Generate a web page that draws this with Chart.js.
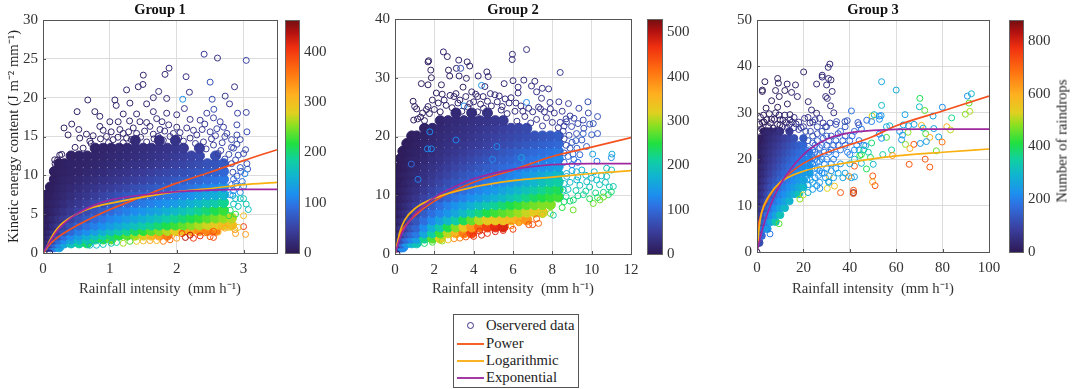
<!DOCTYPE html>
<html>
<head>
<meta charset="utf-8">
<script src="https://cdn.jsdelivr.net/npm/chart.js@4/dist/chart.umd.min.js"></script>
<style>
  html, body { margin:0; background:#fff; }
  body { position:relative; width:1072px; height:389px; overflow:hidden; font-family:"Liberation Serif",serif; color:#333; }
  canvas { position:absolute; top:0; }
  .title { position:absolute; top:1px; font-size:14.5px; line-height:17px; font-weight:bold; color:#111; transform:translateX(-50%); white-space:nowrap; }
  #cb-title { position:absolute; left:1062px; top:141px; font-size:14.7px; color:#222; white-space:nowrap; transform:translate(-50%,-50%) rotate(-90deg); }
  #legend { position:absolute; left:453px; top:314px; width:124px; height:72px; border:1px solid #555; font-size:14.7px; color:#222; }
  .row { position:absolute; left:32px; line-height:17px; white-space:nowrap; }
  .sw { position:absolute; left:3px; width:27px; height:2px; }
  .ring { position:absolute; left:13px; top:7px; width:5px; height:5px; border:1px solid #3f2c85; border-radius:50%; }
</style>
</head>
<body>
<canvas id="c1" width="340" height="300" style="left:0;width:340px;height:300px"></canvas>
<canvas id="c2" width="345" height="300" style="left:350px;width:345px;height:300px"></canvas>
<canvas id="c3" width="362" height="300" style="left:710px;width:362px;height:300px"></canvas>
<div class="title" style="left:160px">Group 1</div>
<div class="title" style="left:513px">Group 2</div>
<div class="title" style="left:873px">Group 3</div>
<div id="cb-title">Number of raindrops</div>
<div id="legend">
  <span class="ring"></span><div class="row" style="top:2px">Oservered data</div>
  <span class="sw" style="top:28px;background:#f4622a"></span><div class="row" style="top:20px">Power</div>
  <span class="sw" style="top:45px;background:#f9b224"></span><div class="row" style="top:37px">Logarithmic</div>
  <span class="sw" style="top:62px;background:#a43aa8"></span><div class="row" style="top:54px">Exponential</div>
</div>
<script>
// colorbar stops
const CB_STOPS = [[0,'#2e1a56'],[.1,'#3a3f9e'],[.2,'#2f6fe0'],[.25,'#1d8ef0'],[.33,'#10b4d0'],[.4,'#10d0a0'],[.47,'#20e040'],[.55,'#90e020'],[.6,'#e0d020'],[.68,'#ffb020'],[.78,'#ff7010'],[.88,'#f03010'],[.95,'#b01010'],[1,'#701010']];

// ---- Group 1
const g1Rain = [.02,.06,.11,.17,.24,.32,.42,.54,.66,.78,.9,1.02,1.14,1.26,1.38,1.5,1.62,1.74,1.86,1.98,2.1,2.22,2.34,2.46,2.58,2.7,2.82];
const g1Energy = [14.5,13.5,12.5,11.5,10.5,9.5,8.5,7.5,6.5,5.5,4.5,3.6,2.9,2.3,1.8,1.3,.8];
const g1Drops = [
[0,0,0,0,0,0,0,0,0,0,0,0,0,0,22,0,0,28,0,32,0,0,0,0,0,0,0],
[0,0,0,0,0,0,0,0,0,12,14,16,18,20,22,25,27,30,33,36,40,0,46,0,0,0,0],
[0,0,0,0,0,0,10,11,12,14,16,18,20,22,25,28,31,34,38,42,46,50,54,0,60,0,0],
[0,0,0,0,8,9,11,12,14,16,18,21,24,27,30,33,36,40,44,48,52,56,60,64,68,72,0],
[0,0,0,6,8,10,12,14,17,20,23,27,30,33,37,41,45,50,54,58,62,66,70,76,80,84,0],
[0,0,0,6,9,12,15,18,22,26,30,34,38,42,46,50,55,60,65,70,75,80,84,90,96,100,0],
[0,0,5,8,11,15,19,24,29,34,39,44,49,54,60,65,70,75,80,85,90,96,102,108,114,122,0],
[0,4,6,9,13,18,24,30,36,43,50,56,63,70,76,82,88,94,100,106,112,120,128,136,145,155,0],
[0,4,7,11,16,23,31,38,46,54,62,70,78,85,92,100,106,113,120,128,138,148,158,168,178,190,0],
[0,5,8,13,20,29,38,48,58,68,78,88,97,106,114,122,130,138,148,158,168,178,190,200,212,225,0],
[3,6,10,17,27,38,50,62,74,86,97,108,118,128,138,148,158,168,180,190,200,212,224,235,245,255,265],
[4,7,13,23,35,50,65,80,94,106,118,130,142,154,165,178,190,202,214,226,238,250,262,272,285,295,300],
[4,9,17,30,46,66,86,104,118,132,148,162,176,190,205,220,235,250,265,282,300,320,335,345,350,0,0],
[5,11,24,42,66,92,114,130,148,165,182,200,218,236,255,275,300,325,350,0,0,0,0,0,0,0,0],
[6,15,33,58,88,115,135,155,175,195,215,235,0,0,0,0,0,0,0,0,0,0,0,0,0,0,0],
[8,20,46,78,110,140,165,185,205,0,0,0,0,0,0,0,0,0,0,0,0,0,0,0,0,0,0],
[12,32,65,100,135,0,0,0,0,0,0,0,0,0,0,0,0,0,0,0,0,0,0,0,0,0,0]
];
const g1Rings = [[2.41,25.6,40],[2.61,25.1,30],[3.04,24.8,50],[1.885,23.8,20],[1.825,23,20],[1.5,22.9,18],[2.14,22.7,30],[2.5,22,60],[1.495,21.7,18],[2.865,21.4,30],[1.425,21.4,15],[1.25,21,15],[2.19,20.7,30],[1.73,20.8,20],[2.09,19.8,120],[.67,19.7,12],[1.075,19.7,14],[1.85,19.9,22],[1.65,20,20],[2.53,19.8,60],[2.725,20.2,40],[2.79,19.2,40],[1.095,19,14],[1.3,19.3,18],[.51,18.2,10],[.775,18.2,12],[3.04,18.1,50],[2.91,18,50],[.85,17.6,12],[1.55,19.2,20],[1.65,18.2,20],[2.115,18.6,35],[2.45,18,45],[2.555,18.5,60],[.43,16.6,9],[.315,16.1,8],[.535,15.9,9],[.375,15.2,8],[.85,16.3,12],[1.125,16.9,14],[1.295,17,16],[1.45,16.9,18],[1.85,18,24],[2,17.8,28],[2.35,17.1,40],[2.65,16.9,50],[2.9,16.5,55],[3.05,15.6,60],[1.2,15.4,14],[.95,15,12],[.7,14.4,10],[.25,12.6,7],[.175,12,6],[1.35,16.1,18],[1.6,16.3,20],[1.75,15.9,22],[1.95,15.4,26],[2.15,16.1,32],[2.3,15.2,35],[2.5,15.6,45],[2.75,15.4,50],[2.95,14.6,55],[3.03,13.3,55],[2.4,14.3,36],[2.55,13.9,42],[2.68,14.2,50],[2.82,13.6,50],[2.62,12.8,45],[2.78,12.7,55],[2.6,16,50],[2.2,14.8,30],[1.05,14.6,12],[1.25,14.8,14],[.6,13.5,9],[.48,13.6,8],[.72,14.1,10],[.86,14.7,11],[.98,14.2,12],[1.12,14.9,13],[1.2,14.2,14],[1.32,14.6,15],[1.46,14.9,18],[1.55,14.3,20],[1.66,14.7,22],[1.72,15,24],[1.8,14.5,25],[1.9,15,28],[2.03,14.8,30],[2.1,14.4,32],[2.28,14.1,36],[2.44,13.4,42],[2.52,14.7,42],[2.66,13.2,50],[2.72,12.1,60],[.55,14.8,9],[.65,15.3,10],[.75,15.1,10],[.9,15.8,12],[1.02,15.6,13],[1.15,15.9,14],[1.28,15.6,15],[1.4,15.4,17],[1.52,15.7,19],[1.65,15.3,21],[1.82,15.7,24],[1.88,16.5,25],[2,16.2,27],[2.05,15.5,30],[2.25,15.8,34],[2.38,15.9,38],[2.42,16.6,40],[2.58,15.1,46],[2.72,15,50],[2.82,14.6,52],[2.9,15.2,54],[1.55,16.8,20],[1.7,17.3,22],[1.78,16.9,23],[2.2,17.2,33],[2.55,17.4,46],[2.7,16.2,52],[1.4,17.9,18],[1.2,17.9,16],[1,16.9,13],[2.9,14,55],[2.88,12,60],[2.96,10.5,70],[2.88,9,90],[2.92,6,170],[2.84,7.4,130],[2.85,13.5,55],[2.92,12.6,60],[3,12.8,55],[3.05,11.5,60],[2.95,11,65],[3.06,10.8,70],[3.02,10.2,110],[2.9,9.9,80],[2.98,9.2,90],[2.85,9.5,85],[3,8.6,110],[2.9,8.6,100],[2.85,8,110],[2.95,7.8,120],[2.8,7.5,125],[2.88,7,160],[2.95,7,170],[3,7,170],[3.04,6.3,175],[3.07,5.6,165],[2.85,6.3,165],[2.8,5.5,200],[2.88,5,215],[2.78,4.8,220],[2.82,11.5,50],[2.84,10.4,60],[2.82,8.8,85],[3,4.8,300],[3,3.4,400],[3.03,2.4,330],[2.87,3,320],[2.88,2.5,330],[2.92,3.3,290],[2.78,3.3,280],[2.72,3.2,320],[2.62,2.7,320],[2.55,2.8,380],[2.55,2,390],[2.5,2.1,380],[2.42,2.6,350],[2.35,2.2,410],[2.25,1.9,400],[2.2,2.3,430],[2.13,2,440],[2.08,2.5,400],[2,1.9,330],[1.9,1.7,370],[1.8,1.5,350],[1.7,1.6,310],[1.6,1.6,320],[1.5,1.55,300],[1.4,1.5,280],[1.3,1.5,230],[1.2,1.25,260],[1.1,1.35,190],[1.02,1.25,170],[.9,1.1,170],[.8,1,160],[.7,1,150],[.1,0,5],[.03,3.5,3],[.04,5,3],[.08,7.5,4],[.12,8.3,5],[.15,9.5,5],[.18,11.5,6],[.22,12,6],[.28,12.7,7]];
const g1PowerRain = [0,.1,.25,.5,1,1.5,2,2.5,3,3.5];
const g1Power = [0,1.1,2.2,3.5,5.6,7.3,9,10.4,11.9,13.3];
const g1LogRain = [0,.05,.1,.2,.3,.5,.75,1,1.5,2,2.5,3,3.5];
const g1Log = [0,.6,1.6,3,3.9,5,5.9,6.4,7.2,7.9,8.3,8.8,9.1];
const g1ExpRain = [0,.1,.25,.5,.75,1,1.25,1.5,2,2.5,3,3.5];
const g1Exp = [0,1.4,3.2,5,6.1,6.8,7.2,7.5,7.9,8.1,8.2,8.2];

// ---- Group 2
const g2Rain = [.06,.15,.27,.4,.6,.85,1.1,1.5,1.9,2.3,2.7,3.1,3.5,3.9,4.3,4.7,5.1,5.5,5.9,6.3,6.7,7.1,7.5,7.9,8.3];
const g2Energy = [24,22.7,21.4,20.1,18.8,17.5,16.2,14.9,13.6,12.3,11,9.7,8.4,7.1,5.8,4.6,3.6,2.7,1.9,1.2];
const g2Drops = [
[0,0,0,0,0,0,0,0,0,0,0,22,0,28,0,34,0,0,0,0,0,0,0,0,0],
[0,0,0,0,0,0,0,0,0,18,22,25,28,32,35,38,42,45,0,0,0,0,0,0,0],
[0,0,0,0,0,0,0,12,17,21,25,28,32,36,40,44,47,52,56,60,64,0,0,0,0],
[0,0,0,0,0,8,10,14,19,24,28,32,36,40,45,50,54,58,62,66,70,74,78,82,86],
[0,0,0,0,6,9,11,16,22,27,32,37,42,46,50,55,60,65,70,75,80,85,90,94,98],
[0,0,0,5,7,10,13,19,25,31,37,42,48,54,60,66,72,78,84,90,95,100,105,110,115],
[0,0,4,6,8,12,16,22,30,36,43,50,56,63,70,76,82,88,94,100,106,112,118,124,130],
[0,0,4,6,9,14,19,27,34,42,50,58,65,72,79,86,93,100,106,112,120,128,136,144,152],
[0,3,5,7,11,17,23,32,41,50,58,67,76,84,92,100,107,114,122,130,140,150,160,170,180],
[0,3,5,8,13,20,27,38,48,58,68,78,88,97,106,115,124,133,143,153,165,177,190,200,210],
[1,3,6,10,16,24,32,45,57,68,80,92,103,114,124,134,145,156,168,180,192,205,218,230,240],
[1,4,7,12,19,28,40,55,69,83,96,109,122,134,146,158,170,182,195,208,222,235,245,255,260],
[1,4,8,15,24,36,50,68,87,105,122,138,154,170,185,200,215,230,245,258,270,280,285,285,0],
[2,5,10,19,30,46,64,85,105,122,140,160,180,205,225,245,260,270,280,295,310,325,330,0,0],
[2,6,13,25,40,60,78,105,130,155,180,205,240,275,305,325,330,340,350,360,380,0,0,0,0],
[3,8,19,36,55,75,95,130,170,205,245,285,330,380,420,450,470,480,0,0,0,0,0,0,0],
[3,11,26,48,75,95,115,160,210,260,305,350,400,450,0,0,0,0,0,0,0,0,0,0,0],
[4,15,38,70,100,125,150,215,270,320,0,0,0,0,0,0,0,0,0,0,0,0,0,0,0],
[6,22,55,100,140,175,195,0,0,0,0,0,0,0,0,0,0,0,0,0,0,0,0,0,0],
[10,38,85,130,0,0,0,0,0,0,0,0,0,0,0,0,0,0,0,0,0,0,0,0,0]
];
const g2Rings = [[2.46,34.4,12],[2.66,33.6,12],[6.69,34.8,30],[5.97,34,30],[5.96,33.1,30],[8.4,30.9,50],[1.71,32.9,5],[1.68,32.7,5],[3.24,33,15],[3.67,32.7,15],[3.8,32,15],[1.82,31.3,8],[2.72,31.3,12],[3.12,31.6,15],[3.34,31.6,70],[4.67,31,20],[4.23,30.3,20],[4.74,30.2,20],[1.34,29,6],[1.68,28.8,6],[1.85,30,8],[2.78,30.3,12],[3.26,30.3,15],[3.63,29.9,15],[4.4,28.7,140],[5.55,29,25],[6,29.5,28],[6.55,29.6,30],[7.11,29.4,32],[6.94,28.6,32],[7.49,28.2,35],[7.81,28.1,40],[6.26,28.4,30],[2.36,28.8,12],[3.46,28.4,15],[4.57,28.5,20],[5.08,27.1,25],[6.26,27.4,30],[7.2,27.6,35],[7.45,26.5,40],[7.88,25.8,45],[8.33,25.9,50],[8.82,25.6,55],[9.81,25.9,70],[6.69,25.8,130],[9.35,24.8,60],[10.3,23.4,70],[8.72,22.5,60],[9.57,22.8,65],[9.83,24,70],[.92,26,6],[1,25.1,6],[1.68,25.1,8],[3.51,25.2,130],[4.48,26.8,20],[1.77,20.8,130],[1.65,17.9,130],[3.1,19.4,120],[1.85,17.9,130],[.83,15.3,100],[1.17,12.7,120],[4.96,16.1,130],[6.43,16.4,160],[5.18,18.3,130],[10.3,20.5,80],[9.23,20.5,70],[9.9,22.1,75],[10.08,22.2,75],[8.98,21.7,65],[9.57,20.5,90],[10,20.3,90],[9.74,18.3,90],[8.9,18,80],[9.4,16.9,95],[9.1,16.1,100],[10.05,17,150],[11.03,17,170],[11,16.4,130],[10.27,15.8,120],[11.01,14.3,190],[10.76,14.6,190],[10.13,14,170],[9.23,14,170],[8.72,13.7,160],[8.73,13.2,170],[9.24,12.6,175],[9.75,12.3,180],[10.25,12.6,185],[10.76,13.2,190],[11.1,11.5,200],[8.56,10.9,190],[9.07,9.2,230],[9.58,10.1,220],[10.08,8.6,280],[10.42,9.2,280],[10.85,10.1,240],[8.05,6.6,200],[9.06,7.5,280],[9,14.2,160],[9.5,14.3,170],[9.7,13.4,175],[9.3,13.1,175],[8.9,12.2,180],[9.4,11.7,190],[9.9,11.4,195],[10.4,11.8,195],[10.7,12.2,190],[10.9,11.4,200],[10.5,13.3,185],[10,12.9,180],[8.6,12,180],[8.8,11,190],[9.2,10.8,200],[9.7,10.7,210],[10.2,10.4,220],[10.6,10.5,220],[11,10.6,230],[8.7,9.8,210],[9.3,9.9,220],[9.9,9.4,240],[10.3,9.6,240],[8.6,8.9,230],[8.5,7.9,250],[8.9,9,230],[10.6,9.7,280],[8.6,19.6,60],[8.7,18.5,70],[8.6,17.2,85],[8.8,16.6,95],[8.6,15.6,100],[9,15.2,120],[9.3,15.6,110],[8.55,20.9,55],[9.6,21.4,70],[9.5,19.4,85],[8.9,23.5,55],[7.4,24.7,40],[7,24.2,38],[6.4,25.2,30],[5.8,25.7,28],[5.2,25.9,25],[4.2,26.8,20],[3.9,27.6,18],[2.4,27.2,10],[2.1,27.4,9],[3,26.8,13],[1.4,24,6],[1.15,23,6],[.95,22.8,5],[1.1,24.7,6],[.75,19.5,4],[.55,18.6,4],[.4,17.2,3],[.25,16.1,3],[.2,14.5,2],[.13,12.5,2],[1.5,22.7,8],[1.75,23.9,9],[2,24.6,10],[2.3,24.2,11],[2.6,25.3,12],[2.9,24.9,14],[3.2,25.7,16],[3.7,25,18],[4,25.9,20],[4.5,24.8,22],[4.9,25.2,24],[5.4,24.5,26],[5.7,23.9,28],[6.1,24.3,30],[6.6,23.4,33],[7.2,22.9,36],[7.7,23.2,40],[8,22.4,42],[8.3,21.5,50],[6.2,22.6,42],[6.9,22.3,48],[7.5,21.8,50],[8.1,24,44],[3.4,24.3,18],[4.2,24.2,22],[5.6,26.4,27],[1.3,23.3,7],[1.6,24.6,8],[1.9,26.2,10],[2.2,25.7,10],[2.5,26.2,11],[2.8,27,12],[3.1,27.3,14],[3.3,26.2,15],[3.6,26.8,16],[3.8,25.6,17],[4.1,27.2,19],[4.35,25.5,20],[4.7,26,22],[4.85,27.3,23],[5.3,26.9,25],[5.45,25.1,26],[5.9,26.6,28],[6.15,25.7,29],[6.5,24.3,30],[6.8,24.8,32],[7.3,25,34],[7.6,24.2,36],[7.9,24.7,40],[8.5,24.3,48],[8.7,23,55],[8.4,22.4,52],[8.6,21.8,58],[9.1,23.1,60],[9.3,22.2,62],[9.2,19.3,80],[9,19,78],[9.25,18,85],[8.85,20.2,65],[9.05,17,95],[.1,0,5],[1.5,1.8,230],[1.9,2,260],[2.4,2.2,290],[2.7,2.4,330],[3,2.6,380],[3.3,2.7,400],[3.6,2.9,430],[4,3,470],[4.4,3.2,480],[4.3,3.9,470],[4.7,3.5,470],[5.1,3.8,480],[5.5,4,470],[6,4.2,450],[5.9,4.8,400],[6.3,5.3,390],[6.8,5,440],[7,5,440],[7.3,5.2,420],[7.2,6,430],[7.5,6.7,300],[7.9,6.9,280]];
const g2PowerRain = [0,.25,.5,1,2,4,6,8,10,12];
const g2Power = [0,3.4,4.7,6.5,9,12.2,14.3,16.6,18.2,19.8];
const g2LogRain = [0,.1,.25,.5,1,2,4,6,8,10,12];
const g2Log = [0,1.5,3.8,5.8,7.7,9.5,11.4,12.5,13.1,13.7,14.2];
const g2ExpRain = [0,.25,.5,1,2,3,4,6,8,10,12];
const g2Exp = [0,2.7,4.4,6.8,9.6,11.4,12.8,14.4,15.2,15.4,15.4];

// ---- Group 3
const g3Rain = [.4,1,2,3,4.5,6,8,10,12,14,16,18,20,22.5];
const g3Energy = [26,24.5,23,21.5,20,18.5,17,15.5,14,12.5,11,9.5,8,6.5,5,3.5,2];
const g3Drops = [
[0,0,0,22,28,36,45,55,0,80,0,0,0,0],
[0,0,10,20,30,40,55,70,85,100,115,0,135,0],
[3,6,14,24,36,50,66,82,100,115,130,145,160,0],
[3,7,16,28,42,58,76,95,112,130,148,165,180,195],
[4,8,19,32,48,66,86,106,126,146,164,180,195,215],
[5,10,22,37,55,75,98,120,142,162,180,198,215,235],
[5,12,26,43,64,88,112,136,158,178,198,218,238,255],
[5,14,30,50,74,102,128,152,176,198,220,240,262,0],
[6,17,35,58,86,116,146,172,196,220,245,270,300,0],
[7,20,42,70,102,135,166,195,222,250,280,320,0,0],
[8,24,50,84,120,156,190,222,255,290,0,0,0,0],
[10,29,62,100,142,182,220,260,300,0,0,0,0,0],
[12,36,76,122,170,215,260,320,0,0,0,0,0,0],
[15,46,95,150,205,260,330,0,0,0,0,0,0,0],
[18,58,120,185,240,0,0,0,0,0,0,0,0,0],
[24,80,160,0,0,0,0,0,0,0,0,0,0,0],
[32,110,0,0,0,0,0,0,0,0,0,0,0,0]
];
const g3Rings = [[31.4,40.5,40],[30.7,39.8,40],[20.1,38.8,30],[28.1,38.1,35],[28.1,37.7,35],[8.9,37.4,12],[30.8,37.4,40],[31.9,37.1,40],[3.4,36.7,8],[53.7,36.7,260],[60,34.9,270],[92.4,34.1,300],[90.7,33.6,230],[70.2,33.1,400],[91.4,32.1,450],[53.7,31.6,300],[70,31.3,300],[79.9,31.2,220],[40.7,30.4,180],[72.3,30.5,450],[91.7,30.3,500],[89.8,29.7,480],[63.8,29.6,260],[53.5,29.4,230],[75.9,29.3,260],[49.6,29.3,520],[50.5,29.6,300],[52.7,29.3,230],[83.9,28.9,370],[52.8,28.6,220],[47.3,28.4,170],[49.4,28.1,200],[43.5,27.9,130],[43.9,27.4,130],[57.2,27.2,300],[55.8,27,260],[63.1,27.4,260],[65.3,27.2,270],[67.7,27.5,250],[70.9,27.3,590],[71.6,26.7,290],[76.2,26.6,250],[81.8,27,600],[83.4,26.3,510],[45,26.5,190],[65.1,25.8,480],[61.5,26,230],[52.7,25.4,230],[72.7,25.5,440],[62.7,25.2,250],[55.8,24.7,430],[53.7,24.5,220],[74.5,24.7,600],[78.3,24.8,260],[62.3,24.2,230],[79.8,23.7,680],[73,23.8,250],[70.4,23.4,240],[67.6,23.2,730],[64,23.2,480],[49.4,23.5,380],[65.9,22.3,600],[58,22,350],[77.3,21.8,450],[46.8,22.9,280],[45,21,420],[44.3,20.8,420],[54.2,21,350],[58.4,20.8,640],[48.9,20.4,400],[72.5,20,720],[50.1,18.9,300],[65.6,18.9,720],[74.5,18.3,720],[42,18.5,720],[47.2,17.9,400],[45,19.1,300],[49.9,16.4,720],[49.8,15.1,600],[50.9,14.3,720],[42,16.2,250],[40.7,16,250],[39.6,16.3,640],[36,12.8,720],[41.6,13.3,720],[41.6,12.8,880],[41.5,12.6,720],[33.4,14.2,560],[30.3,13.7,530],[27.1,13.7,230],[25.8,14.3,230],[30.8,15.2,280],[31.1,16.4,550],[9.5,6.1,450],[5.6,3.9,180],[19.9,12.3,520],[18.5,11.4,480],[2.3,34.9,6],[2.3,34.6,6],[9.2,36.4,12],[13,36.2,18],[16.6,36,22],[25.7,36.2,32],[30,36,38],[32.4,34.6,42],[29.6,33.5,40],[30.3,33.1,40],[8,34.8,12],[12,34.8,16],[14.9,34.4,20],[17.4,33.5,24],[6.3,32.6,10],[9.6,33.5,14],[22.1,32.4,35],[13.1,31.9,20],[3.9,31,8],[8.9,31.2,14],[5.3,29.8,9],[14.2,29.6,22],[23.5,30.6,38],[25.7,29.9,42],[31.7,31.5,50],[33.1,30,55],[2.3,27.9,5],[6.3,28.6,10],[9.9,27.4,16],[7,26.7,12],[14.2,28.5,25],[22.8,27.8,60],[28.5,27.8,80],[34.3,28.1,110],[37.9,28.1,120],[38.9,28.3,125],[24,25,130],[26,24,140],[28,26,130],[30,23,150],[32,25,140],[34,24,150],[36,26,150],[38,25,160],[40,24,170],[42,26,160],[44,24,180],[46,23,200],[24,22,170],[26,21,180],[28,23,170],[30,20,190],[32,22,180],[34,21,190],[36,22,190],[38,23,180],[40,21,210],[42,22,220],[44,22,290],[46,22,330],[48,21.5,350],[24,19,200],[26,18,210],[28,17,220],[30,18,220],[32,19,210],[34,18,230],[36,19,230],[38,17,260],[40,19,260],[42,20,300],[25,16,230],[27,15,230],[29,17,230],[31,15,240],[33,16,250],[35,17,260],[37,16,260],[22,14.5,260],[24,15,250],[23,17,230],[22,20,200],[22,24,130],[26,27,110],[30,27,120],[34,27.5,120],[38,27,130],[20,27,90],[24,28,90],[18,28,70],[16,29,50],[12,29.5,25],[8,30,15],[10,28.5,30],[14,27.5,50],[25,20,190],[27,19.5,200],[29,21.5,180],[31,24,150],[33,20,200],[35,23,170],[37,24,160],[39,21.5,190],[41,25,170],[43,23,210],[35,25.5,140],[21,26,110],[23,26,110],[24,23.5,150],[25,21.5,170],[27,22.5,170],[26,25.5,120],[23,19,200],[23,15.5,240],[25,18,220],[27,17.5,220],[5,27,20],[3,28,10],[1.2,27.5,5],[11,27,35],[13,26.8,50],[16,26.8,80],[18,26.4,100],[1.5,29,5],[2.8,29.5,7],[4.2,28.5,9],[5.8,27.8,11],[7.5,28.6,13],[8.8,27.5,15],[9.5,29.5,18],[11.2,28.4,22],[12.6,27.9,30],[15.2,28,45],[16.8,27.6,60],[19,26.8,85],[20.5,28.8,65],[22,29,55],[25,28.5,80],[27,28.8,75],[29.5,27,100],[31.5,27.8,105],[21,22,160],[21.5,18,210],[22.5,22,175],[23,21,185],[24,20.3,195],[25,23,160],[26,19.5,205],[26.5,16.5,225],[27,21,190],[28,20,205],[28.5,24.5,150],[29,19,215],[29.5,16,235],[30,25,140],[31,21.5,190],[32,17.5,225],[33,23,165],[21.5,15.5,250],[22,12.8,280],[24,13.5,240],[0,0,5],[.3,23.5,2],[.5,20,2],[1,24.5,4],[.6,26,3],[2,26.5,6]];
const g3PowerRain = [0,.5,1,2,5,10,20,50,60,80,100];
const g3Power = [0,5.3,6.7,8.5,11.7,15,19.1,24.9,27.2,30.4,33.6];
const g3LogRain = [0,.5,1,2,5,10,20,40,60,80,100];
const g3Log = [0,3,5.5,8.5,12,15,17.4,19.3,20.7,21.5,22.2];
const g3ExpRain = [0,2,5,10,20,30,40,50,70,100];
const g3Exp = [0,4.3,9,14.5,21,24.3,25.7,26.2,26.5,26.5];

const SERIF = '"Liberation Serif", serif';

function hexRgb(h){ return [1,3,5].map(i => parseInt(h.substr(i,2),16)); }

function dropColor(n, max){
  const t = Math.min(n/max, 1);
  for (let i = 1; i < CB_STOPS.length; i++) {
    if (t <= CB_STOPS[i][0]) {
      const [t0,c0] = CB_STOPS[i-1], [t1,c1] = CB_STOPS[i];
      const f = (t-t0)/(t1-t0), a = hexRgb(c0), b = hexRgb(c1);
      return `rgb(${a.map((v,k)=>Math.round(v+(b[k]-v)*f)).join(',')})`;
    }
  }
  return CB_STOPS[CB_STOPS.length-1][1];
}

function pairs(xs, ys){ return xs.map((x,i)=>({x, y:ys[i]})); }

function curve(label, xs, ys, color){
  return { label, data:pairs(xs,ys), showLine:true, pointRadius:0, borderColor:color, borderWidth:1.7, cubicInterpolationMode:'monotone', order:1 };
}

// inward ticks, box and the colorbar
const framePlugin = {
  id:'frame',
  afterDatasetsDraw(chart, args, o){
    const {ctx, chartArea:a, scales} = chart;
    ctx.save();
    ctx.strokeStyle = '#555';
    ctx.lineWidth = 1;
    ctx.strokeRect(a.left+.5, a.top+.5, a.right-a.left, a.bottom-a.top);
    ctx.beginPath();
    scales.x.ticks.forEach(t => { const p = Math.round(scales.x.getPixelForValue(t.value))+.5; ctx.moveTo(p,a.bottom); ctx.lineTo(p,a.bottom-3); });
    scales.y.ticks.forEach(t => { const p = Math.round(scales.y.getPixelForValue(t.value))+.5; ctx.moveTo(a.left,p); ctx.lineTo(a.left+3,p); });
    ctx.stroke();
    const g = ctx.createLinearGradient(0,a.bottom,0,a.top);
    CB_STOPS.forEach(s => g.addColorStop(s[0],s[1]));
    ctx.fillStyle = g;
    ctx.fillRect(a.right+o.gap, a.top, o.width, a.bottom-a.top);
    ctx.strokeStyle = '#666';
    ctx.strokeRect(a.right+o.gap+.5, a.top+.5, o.width, a.bottom-a.top);
    ctx.restore();
  }
};

function groupChart(id, cfg){
  const core = [];
  for (let r = cfg.energy.length-1; r >= 0; r--) {
    cfg.rain.forEach((x,c) => { const n = cfg.drops[r][c]; if (n) core.push({x, y:cfg.energy[r], n}); });
  }
  const rings = cfg.rings.map(p => ({x:p[0], y:p[1], n:p[2]}));
  const axisFont = {family:SERIF, size:15};
  const titleFont = {family:SERIF, size:14.7};
  return new Chart(document.getElementById(id), {
    type:'scatter',
    data:{ datasets:[
      curve('Exponential', cfg.expX, cfg.expY, '#a0289e'),
      curve('Logarithmic', cfg.logX, cfg.logY, '#f9b010'),
      curve('Power', cfg.powX, cfg.powY, '#f4511e'),
      { label:'Oservered data', data:rings, order:2, pointRadius:3, borderWidth:1, backgroundColor:'transparent',
        borderColor:rings.map(p=>dropColor(p.n,cfg.max)) },
      { label:'Oservered data (dense)', data:core, order:3, pointRadius:cfg.coreR, borderWidth:1,
        backgroundColor:core.map(p=>dropColor(p.n,cfg.max)), borderColor:core.map(p=>dropColor(p.n,cfg.max)) }
    ]},
    options:{
      responsive:false, animation:false, events:[],
      layout:{ padding:{top:cfg.top}, autoPadding:false },
      plugins:{ legend:{display:false}, tooltip:{enabled:false}, frame:{gap:cfg.gap, width:cfg.cbW} },
      scales:{
        x:{ type:'linear', min:0, max:cfg.xMax, grid:{color:'#dcdcdc', drawTicks:false}, border:{display:false},
            ticks:{stepSize:cfg.xStep, includeBounds:false, maxRotation:0, padding:7, color:'#333', font:axisFont},
            title:{display:true, text:'Rainfall intensity  (mm h⁻¹)', color:'#333', font:titleFont, padding:{top:0,bottom:2}},
            afterFit(s){ s.height = 300-cfg.bottom; } },
        y:{ type:'linear', min:0, max:cfg.yMax, grid:{color:'#dcdcdc', drawTicks:false}, border:{display:false},
            ticks:{stepSize:cfg.yStep, padding:5, color:'#333', font:axisFont},
            title:{display:!!cfg.yTitle, text:cfg.yTitle||'', color:'#222', font:titleFont, padding:{top:5,bottom:0}},
            afterFit(s){ s.width = cfg.left; } },
        // tickLength pushes the labels past the colorbar; ticks.padding would also eat into the plot height
        cb:{ axis:'y', type:'linear', position:'right', min:0, max:cfg.max, grid:{display:false, drawTicks:true, tickLength:cfg.gap+cfg.cbW+5}, border:{display:false},
            ticks:{stepSize:cfg.cbStep, includeBounds:false, padding:0, color:'#333', font:axisFont},
            afterFit(s){ s.width = cfg.rightW; } }
      }
    },
    plugins:[framePlugin]
  });
}

groupChart('c1', { rain:g1Rain, energy:g1Energy, drops:g1Drops, rings:g1Rings, max:463, coreR:5,
  powX:g1PowerRain, powY:g1Power, logX:g1LogRain, logY:g1Log, expX:g1ExpRain, expY:g1Exp,
  xMax:3.5, xStep:1, yMax:30, yStep:5, cbStep:100, left:43, top:20, bottom:253, rightW:63, gap:8, cbW:14,
  yTitle:'Kinetic energy content (J m⁻² mm⁻¹)' });
groupChart('c2', { rain:g2Rain, energy:g2Energy, drops:g2Drops, rings:g2Rings, max:530, coreR:5,
  powX:g2PowerRain, powY:g2Power, logX:g2LogRain, logY:g2Log, expX:g2ExpRain, expY:g2Exp,
  xMax:12, xStep:2, yMax:40, yStep:10, cbStep:100, left:45, top:19, bottom:254, rightW:64, gap:16, cbW:15 });
groupChart('c3', { rain:g3Rain, energy:g3Energy, drops:g3Drops, rings:g3Rings, max:880, coreR:3.7,
  powX:g3PowerRain, powY:g3Power, logX:g3LogRain, logY:g3Log, expX:g3ExpRain, expY:g3Exp,
  xMax:100, xStep:20, yMax:50, yStep:10, cbStep:200, left:47, top:20, bottom:252, rightW:83, gap:20, cbW:14 });
</script>
</body>
</html>
